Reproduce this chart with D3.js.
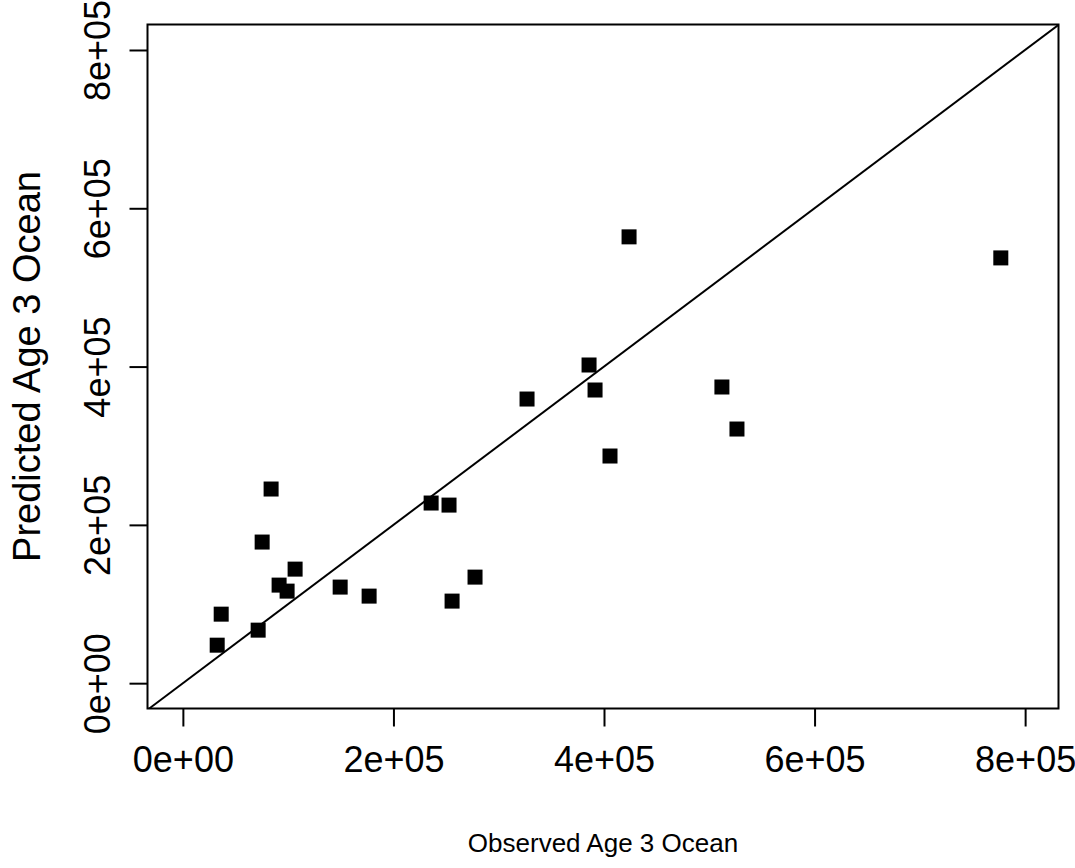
<!DOCTYPE html>
<html>
<head>
<meta charset="utf-8">
<script src="https://cdn.jsdelivr.net/npm/d3@7"></script>
<style>
  html, body { margin: 0; padding: 0; background: #fff; }
  svg { display: block; }
  text { font-family: "Liberation Sans", Arial, sans-serif; fill: #000; }
</style>
</head>
<body>
<svg id="chart" width="1075" height="868"></svg>
<script>
// Data
const observed  = [32600, 36400, 71500, 75300, 83800, 91400, 99000, 106600, 149400, 176900,
                   235800, 252800, 255700, 277500, 326900, 385800, 391500, 405700, 423800,
                   512000, 526300, 776900];
const predicted = [48000, 87200, 67000, 178300, 245300, 123900, 116300, 144100, 121400, 110000,
                   227600, 225000, 103700, 134000, 359000, 402000, 370400, 287000, 563900,
                   374200, 321100, 537300];
const tickValues = [0, 200000, 400000, 600000, 800000];
const tickLabels = ["0e+00", "2e+05", "4e+05", "6e+05", "8e+05"];
const xTitle = "Observed Age 3 Ocean";
const yTitle = "Predicted Age 3 Ocean";
const xDomain = [-33600, 831700];
const yDomain = [-32000, 832200];

const svg = d3.select("#chart");
const plot = { left: 147.5, right: 1058.5, top: 24.5, bottom: 708.5 };

const x = d3.scaleLinear().domain(xDomain).range([plot.left, plot.right]);
const y = d3.scaleLinear().domain(yDomain).range([plot.bottom, plot.top]);

const fontSize = 36;
const font = "Liberation Sans, Arial, sans-serif";

// X axis
const xAxis = d3.axisBottom(x).tickValues(tickValues)
  .tickFormat((d, i) => tickLabels[i]).tickSize(18).tickSizeOuter(0).tickPadding(20);
const gx = svg.append("g").attr("transform", `translate(0,${plot.bottom})`).call(xAxis);
gx.select(".domain").remove();
gx.selectAll(".tick line").attr("stroke", "#000").attr("stroke-width", 2);
gx.selectAll(".tick text").attr("font-size", fontSize).attr("fill", "#000")
  .style("font-family", font);

// Y axis
const yAxis = d3.axisLeft(y).tickValues(tickValues)
  .tickFormat((d, i) => tickLabels[i]).tickSize(18).tickSizeOuter(0);
const gy = svg.append("g").attr("transform", `translate(${plot.left},0)`).call(yAxis);
gy.select(".domain").remove();
gy.selectAll(".tick line").attr("stroke", "#000").attr("stroke-width", 2);
gy.selectAll(".tick text")
  .attr("font-size", fontSize).attr("fill", "#000")
  .style("font-family", font)
  .attr("text-anchor", "middle")
  .attr("x", 0).attr("y", 0).attr("dy", null)
  .attr("transform", "translate(-47,0) rotate(-90)")
  .attr("dominant-baseline", "middle");

// Plot box
svg.append("rect")
  .attr("x", plot.left).attr("y", plot.top)
  .attr("width", plot.right - plot.left).attr("height", plot.bottom - plot.top)
  .attr("fill", "none").attr("stroke", "#000").attr("stroke-width", 2);

// Clip
svg.append("clipPath").attr("id", "clip").append("rect")
  .attr("x", plot.left).attr("y", plot.top)
  .attr("width", plot.right - plot.left).attr("height", plot.bottom - plot.top);

// 1:1 line (y = x)
const lineEnds = [-40000, 840000];
svg.append("line").attr("clip-path", "url(#clip)")
  .attr("x1", x(lineEnds[0])).attr("y1", y(lineEnds[0]))
  .attr("x2", x(lineEnds[1])).attr("y2", y(lineEnds[1]))
  .attr("stroke", "#000").attr("stroke-width", 2);

// Points
const pts = observed.map((d, i) => ({ o: d, p: predicted[i] }));
const s = 15;
svg.append("g").selectAll("rect").data(pts).join("rect")
  .attr("x", d => x(d.o) - s / 2).attr("y", d => y(d.p) - s / 2)
  .attr("width", s).attr("height", s).attr("fill", "#000");

// Titles
svg.append("text").attr("x", (plot.left + plot.right) / 2).attr("y", 852)
  .attr("text-anchor", "middle").attr("font-size", 26).text(xTitle);
svg.append("text")
  .attr("transform", `translate(40,${(plot.top + plot.bottom) / 2}) rotate(-90)`)
  .attr("text-anchor", "middle").attr("font-size", 38).text(yTitle);
</script>
</body>
</html>
